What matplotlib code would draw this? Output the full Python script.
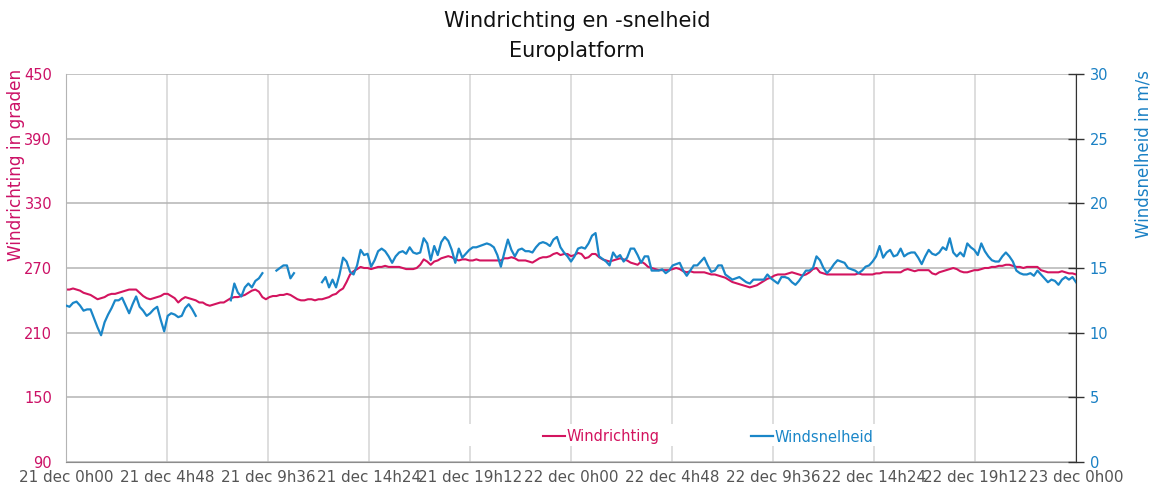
import numpy as np
import matplotlib
matplotlib.use("Agg")
import matplotlib.pyplot as plt
from matplotlib.patches import Rectangle

nan = np.nan

# 10-minute samples from 21 dec 0h00 to 23 dec 0h00 (289 samples)
hours = np.arange(289) * 10 / 60.0

windrichting = [
    250, 250, 251, 250, 249, 247, 246, 245, 243, 241, 242, 243,
    245, 246, 246, 247, 248, 249, 250, 250, 250, 247, 244, 242,
    241, 242, 243, 244, 246, 246, 244, 242, 238, 241, 243, 242,
    241, 240, 238, 238, 236, 235, 236, 237, 238, 238, 240, 242,
    243, 243, 244, 245, 247, 249, 250, 248, 243, 241, 243, 244,
    244, 245, 245, 246, 245, 243, 241, 240, 240, 241, 241, 240,
    241, 241, 242, 243, 245, 246, 249, 251, 257, 264, 267, 269,
    271, 270, 270, 269, 270, 271, 271, 272, 271, 271, 271, 271,
    270, 269, 269, 269, 270, 273, 278, 276, 273, 276, 277, 279,
    280, 281, 280, 278, 277, 278, 278, 277, 277, 278, 277, 277,
    277, 277, 277, 277, 277, 279, 279, 280, 279, 277, 277, 277,
    276, 275, 277, 279, 280, 280, 281, 283, 284, 282, 283, 283,
    281, 282, 284, 283, 279, 280, 283, 283, 280, 278, 277, 276,
    277, 278, 279, 278, 277, 275, 274, 273, 276, 274, 271, 270,
    269, 268, 268, 268, 268, 269, 270, 269, 267, 266, 267, 266,
    266, 266, 266, 265, 264, 264, 263, 262, 261, 259, 257, 256,
    255, 254, 253, 252, 253, 254, 256, 258, 260, 261, 263, 264,
    264, 264, 265, 266, 265, 264, 263, 264, 266, 269, 270, 266,
    265, 264, 264, 264, 264, 264, 264, 264, 264, 264, 265, 264,
    264, 264, 264, 265, 265, 266, 266, 266, 266, 266, 266, 268,
    269, 268, 267, 268, 268, 268, 268, 265, 264, 266, 267, 268,
    269, 270, 269, 267, 266, 266, 267, 268, 268, 269, 270, 270,
    271, 271, 272, 272, 273, 273, 272, 271, 271, 270, 271, 271,
    271, 271, 268, 267, 266, 266, 266, 266, 267, 266, 265, 265,
    264,
]

windsnelheid = [
    12.1, 12.0, 12.3, 12.4, 12.1, 11.7, 11.8, 11.8, 11.1, 10.4, 9.8, 10.8,
    11.4, 11.9, 12.5, 12.5, 12.7, 12.1, 11.5, 12.2, 12.8, 12.0, 11.7, 11.3,
    11.5, 11.8, 12.0, 11.0, 10.1, 11.3, 11.5, 11.4, 11.2, 11.3, 11.9, 12.2,
    11.8, 11.3, nan, nan, nan, nan, nan, nan, nan, nan, nan, 12.5,
    13.8, 13.1, 12.8, 13.5, 13.8, 13.5, 14.0, 14.2, 14.6, nan, nan, nan,
    14.8, 15.0, 15.2, 15.2, 14.2, 14.6, nan, nan, nan, nan, nan, nan,
    nan, 13.9, 14.3, 13.5, 14.1, 13.5, 14.5, 15.8, 15.5, 14.7, 14.5, 15.2,
    16.4, 16.0, 16.1, 15.1, 15.6, 16.3, 16.5, 16.3, 15.9, 15.4, 15.9, 16.2,
    16.3, 16.1, 16.6, 16.2, 16.1, 16.2, 17.3, 16.9, 15.6, 16.7, 16.0, 17.0,
    17.4, 17.1, 16.4, 15.4, 16.5, 15.8, 16.1, 16.4, 16.6, 16.6, 16.7, 16.8,
    16.9, 16.8, 16.6, 16.0, 15.1, 16.2, 17.2, 16.4, 15.9, 16.4, 16.5, 16.3,
    16.3, 16.2, 16.6, 16.9, 17.0, 16.9, 16.7, 17.2, 17.4, 16.6, 16.2, 15.9,
    15.5, 15.9, 16.5, 16.6, 16.5, 16.9, 17.5, 17.7, 15.9, 15.7, 15.5, 15.2,
    16.2, 15.8, 16.0, 15.5, 15.8, 16.5, 16.5, 16.0, 15.4, 15.9, 15.9, 14.8,
    14.8, 14.8, 14.9, 14.6, 14.8, 15.2, 15.3, 15.4, 14.8, 14.4, 14.8, 15.2,
    15.2, 15.5, 15.8, 15.2, 14.7, 14.8, 15.2, 15.2, 14.5, 14.3, 14.1, 14.2,
    14.3, 14.1, 13.9, 13.8, 14.1, 14.1, 14.1, 14.1, 14.5, 14.2, 14.0, 13.8,
    14.3, 14.3, 14.2, 13.9, 13.7, 14.0, 14.4, 14.8, 14.8, 15.0, 15.9, 15.6,
    15.0, 14.6, 14.9, 15.3, 15.6, 15.5, 15.4, 15.0, 14.9, 14.8, 14.6, 14.8,
    15.1, 15.2, 15.5, 15.9, 16.7, 15.8, 16.2, 16.4, 15.9, 16.0, 16.5, 15.9,
    16.1, 16.2, 16.2, 15.8, 15.3, 15.9, 16.4, 16.1, 16.0, 16.2, 16.6, 16.4,
    17.3, 16.2, 15.9, 16.2, 15.9, 16.9, 16.6, 16.4, 16.0, 16.9, 16.3, 15.9,
    15.6, 15.5, 15.5, 15.9, 16.2, 15.9, 15.5, 14.8, 14.6, 14.5, 14.5, 14.6,
    14.4, 14.8, 14.5, 14.2, 13.9, 14.1, 14.0, 13.7, 14.1, 14.3, 14.1, 14.3,
    13.9,
]

x_ticks = [0, 4.8, 9.6, 14.4, 19.2, 24, 28.8, 33.6, 38.4, 43.2, 48]
x_labels = ["21 dec 0h00", "21 dec 4h48", "21 dec 9h36", "21 dec 14h24",
            "21 dec 19h12", "22 dec 0h00", "22 dec 4h48", "22 dec 9h36",
            "22 dec 14h24", "22 dec 19h12", "23 dec 0h00"]
dir_ticks = [90, 150, 210, 270, 330, 390, 450]
speed_ticks = [0, 5, 10, 15, 20, 25, 30]

RED = "#d3145f"
BLUE = "#1a86c8"
RED_TXT = "#cc1166"
BLUE_TXT = "#1a80c4"

W, H = 1156, 492
fig = plt.figure(figsize=(W / 100, H / 100), dpi=100)
ax = fig.add_axes([66 / W, 1 - 462 / H, 1010 / W, 388 / H])
ax2 = ax.twinx()

ax.plot(hours, windrichting, color=RED, lw=1.5, label="Windrichting")
ax2.plot(hours, windsnelheid, color=BLUE, lw=1.6, label="Windsnelheid")

ax.set_xlim(0, 48)
ax.set_ylim(90, 450)
ax2.set_ylim(0, 30)

ax.set_xticks(x_ticks)
ax.set_xticklabels(x_labels, fontsize=10.9, color="#555555")
ax.set_yticks(dir_ticks)
ax.set_yticklabels([str(v) for v in dir_ticks], fontsize=10.5, color=RED_TXT)
ax2.set_yticks(speed_ticks)
ax2.set_yticklabels([str(v) for v in speed_ticks], fontsize=10.5, color=BLUE_TXT)

ax.tick_params(axis="x", length=0, pad=6)
ax.tick_params(axis="y", length=0, pad=10)
ax2.tick_params(axis="y", direction="inout", length=12, width=1,
                color="#333333", pad=4)

ax.set_axisbelow(True)
ax.grid(axis="x", color="#d4d4d4", lw=1.1)
ax.grid(axis="y", color="#b4b4b4", lw=1.1)

for a in (ax, ax2):
    a.spines["top"].set_visible(False)
    a.spines["left"].set_color("#b4b4b4")
    a.spines["bottom"].set_color("#8c8c8c")
    a.spines["right"].set_color("#333333")
ax.spines["right"].set_visible(False)
ax2.spines["left"].set_visible(False)
ax2.spines["bottom"].set_visible(False)

# white band behind the legend
ax.add_patch(Rectangle(((466 - 66) / 1010, (462 - 446) / 388), (880 - 466) / 1010,
                       22 / 388, transform=ax.transAxes, facecolor="white",
                       edgecolor="none", zorder=1))

h1, l1 = ax.get_legend_handles_labels()
h2, l2 = ax2.get_legend_handles_labels()
leg = ax2.legend(h1 + h2, l1 + l2, loc="center",
                 bbox_to_anchor=((708 - 66) / 1010, (462 - 437) / 388),
                 ncol=2, frameon=False, handlelength=1.5, handletextpad=0.1,
                 columnspacing=6.3, fontsize=10.5, labelcolor="linecolor")

fig.text(577 / W, 1 - 21 / H, "Windrichting en -snelheid", ha="center",
         va="center", fontsize=15, color="#111111")
fig.text(577 / W, 1 - 51 / H, "Europlatform", ha="center", va="center",
         fontsize=15, color="#111111")

fig.text(16 / W, 1 - 69 / H, "Windrichting in graden", rotation=90,
         ha="center", va="top", fontsize=12.2, color=RED_TXT)
fig.text(1143 / W, 1 - 70 / H, "Windsnelheid in m/s", rotation=90,
         ha="center", va="top", fontsize=12, color=BLUE_TXT)

fig.savefig("out.png", dpi=100)
